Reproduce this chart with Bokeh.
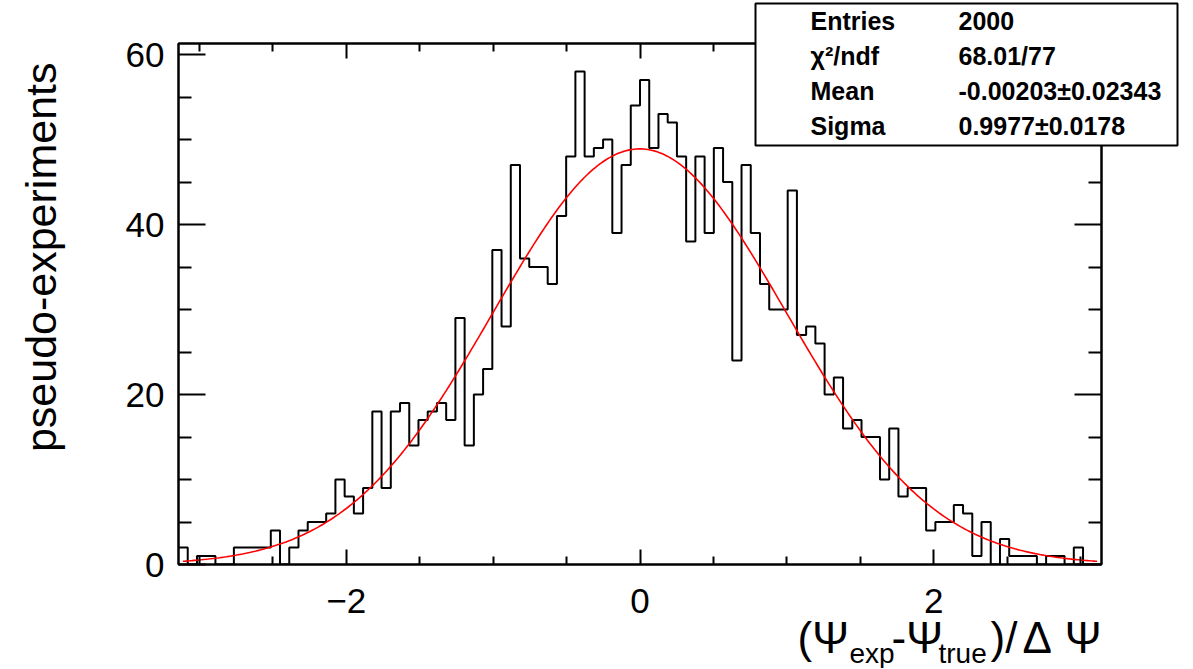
import numpy as np
from bokeh.plotting import figure
from bokeh.models import FixedTicker, LinearAxis, Label, BoxAnnotation, Range1d, GridBox, Column
from bokeh.embed import file_html
from bokeh.resources import INLINE

# ---------------- data ----------------
counts = [2, 0, 1, 1, 0, 0, 2, 2, 2, 2,
          4, 0, 2, 4, 5, 5, 6, 10, 8, 6,
          9, 18, 9, 18, 19, 14, 17, 18, 19, 17,
          29, 14, 20, 23, 37, 28, 47, 36, 35, 35,
          33, 41, 48, 58, 48, 49, 50, 39, 47, 54,
          57, 49, 53, 52, 48, 38, 48, 39, 49, 45,
          24, 47, 39, 33, 30, 30, 44, 27, 28, 26,
          20, 22, 16, 17, 15, 15, 10, 16, 8, 9,
          9, 4, 5, 5, 7, 6, 1, 5, 0, 3,
          1, 1, 1, 0, 1, 1, 0, 2, 0, 0]
x_min, x_max = -np.pi, np.pi
y_max = 61.3
fit_constant = 48.9
fit_mean = -0.00203
fit_sigma = 0.9977
stats_names = ["Entries", "χ²/ndf", "Mean", "Sigma"]
stats_values = ["2000", "68.01/77", "-0.00203±0.02343", "0.9977±0.0178"]
x_ticks = [-2, 0, 2]
x_tick_labels = {-2: "\u22122", 0: "0", 2: "2"}
x_minor = [-3, -2.5, -1.5, -1, -0.5, 0.5, 1, 1.5, 2.5, 3]
y_ticks = [0, 20, 40, 60]
y_minor = [5, 10, 15, 25, 30, 35, 45, 50, 55]
y_title = "pseudo-experiments"
x_title_parts = ["(Ψ", "exp", "-Ψ", "true", ")/", "Δ", "Ψ"]

# ---------------- layout (page pixels) ----------------
W, H = 1192, 668
FL, FT, FR, FB = 178, 43, 1101, 564
FW = FR - FL
FH = FB - FT
FONT = "Liberation Sans"

p = figure(width=W, height=H, output_backend="svg", toolbar_location=None,
           x_range=Range1d(x_min, x_max), y_range=Range1d(0, y_max),
           min_border_left=FL, min_border_right=W - FL - FW,
           min_border_top=FT, min_border_bottom=H - FT - FH)
p.xgrid.visible = False
p.ygrid.visible = False
p.outline_line_color = "black"
p.outline_line_width = 2
p.background_fill_color = "white"
p.border_fill_color = "white"

# histogram outline
n_bins = len(counts)
edges = np.linspace(x_min, x_max, n_bins + 1)
p.step(edges, list(counts) + [counts[-1]], mode="after", line_color="black", line_width=2)

# gaussian fit
xf = np.linspace(x_min + 0.03, x_max - 0.03, 400)
yf = fit_constant * np.exp(-0.5 * ((xf - fit_mean) / fit_sigma) ** 2)
p.line(xf, yf, line_color="#ff0000", line_width=1.6)

def style_axis(ax, ticks, minor, tin, tmin, show_labels):
    ax.ticker = FixedTicker(ticks=ticks, minor_ticks=minor)
    ax.axis_line_color = "black"
    ax.axis_line_width = 2
    ax.major_tick_line_width = 2
    ax.minor_tick_line_width = 2
    ax.major_tick_in = tin
    ax.major_tick_out = 0
    ax.minor_tick_in = tmin
    ax.minor_tick_out = 0
    if show_labels:
        ax.major_label_text_font = FONT
        ax.major_label_text_font_size = "35px"
        ax.major_label_text_color = "black"
    else:
        ax.major_label_text_font_size = "1px"
        ax.major_label_text_color = None
        ax.major_label_standoff = 0

xa = p.xaxis[0]
style_axis(xa, x_ticks, x_minor, 15, 8, True)
xa.major_label_overrides = x_tick_labels
xa.major_label_standoff = 24
ya = p.yaxis[0]
style_axis(ya, y_ticks, y_minor, 27, 13, True)
ya.major_label_standoff = 14

top_ax = LinearAxis()
style_axis(top_ax, x_ticks, x_minor, 15, 8, False)
p.add_layout(top_ax, "above")
right_ax = LinearAxis()
style_axis(right_ax, y_ticks, y_minor, 27, 13, False)
p.add_layout(right_ax, "right")

# ---------------- transparent overlay for titles and stats box ----------------
ov = figure(width=W, height=H, output_backend="svg", toolbar_location=None,
            x_range=Range1d(0, W), y_range=Range1d(H, 0),
            x_axis_location=None, y_axis_location=None,
            min_border_left=0, min_border_right=0, min_border_top=0, min_border_bottom=0)
ov.grid.visible = False
ov.outline_line_color = None
ov.background_fill_color = None
ov.border_fill_color = None

has_frame_align = "frame_align" in ov.properties()
if has_frame_align:
    ov.frame_align = False
    p.frame_align = False

# y axis title
ov.add_layout(Label(x=40, y=62, text=y_title, angle=np.pi / 2,
                    text_align="right", text_baseline="middle",
                    text_font=FONT, text_font_size="43px", text_color="black"))

# x axis title with subscripts
big, small = "44px", "28px"
x_title_pos = [(797, 637, big, "left"), (849, 653, small, "left"), (891, 637, big, "left"),
               (938, 653, small, "left"), (990, 637, big, "left"), (1022, 637, big, "left"),
               (FR, 637, big, "right")]
for txt, (px, py, fs, al) in zip(x_title_parts, x_title_pos):
    ov.add_layout(Label(x=px, y=py, text=txt, text_align=al, text_baseline="middle",
                        text_font=FONT, text_font_size=fs, text_color="black"))

# stats box
ov.add_layout(BoxAnnotation(left=755, right=1177, top=3, bottom=145,
                            fill_color="white", fill_alpha=1.0,
                            line_color="black", line_alpha=1.0, line_width=2))
row_y = [20, 55, 90, 125]
for name, val, ry in zip(stats_names, stats_values, row_y):
    ov.add_layout(Label(x=810, y=ry, text=name, text_align="left", text_baseline="middle",
                        text_font=FONT, text_font_size="25px", text_font_style="bold",
                        text_color="black"))
    ov.add_layout(Label(x=958, y=ry, text=val, text_align="left", text_baseline="middle",
                        text_font=FONT, text_font_size="25px", text_font_style="bold",
                        text_color="black"))

ov_child = ov if has_frame_align else Column(children=[ov])
layout = GridBox(children=[(p, 0, 0), (ov_child, 0, 0)])
open("out.html", "w").write(file_html(layout, INLINE))
